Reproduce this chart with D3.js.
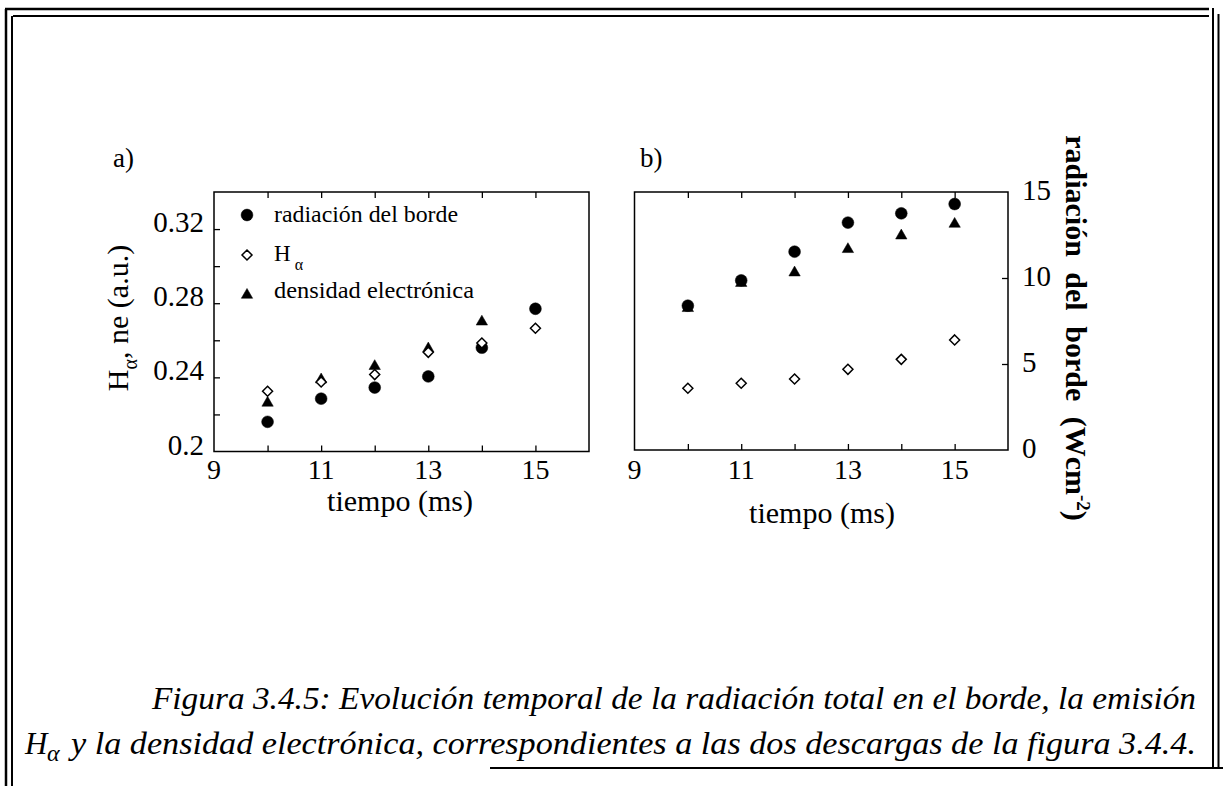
<!DOCTYPE html>
<html>
<head>
<meta charset="utf-8">
<script src="https://cdn.jsdelivr.net/npm/d3@7"></script>
<style>
  html, body { margin: 0; padding: 0; background: #fff; }
  svg { display: block; }
  text { font-family: "Liberation Serif", "Times New Roman", serif; fill: #000; }
</style>
</head>
<body>
<svg id="fig" width="1223" height="786"></svg>
<script>
// Discharge time (ms)
const tiempo = [10, 11, 12, 13, 14, 15];

// Panel a): normalised signals (a.u.)
const radiacionA = [0.216, 0.2285, 0.2345, 0.2405, 0.256, 0.277];
const halfaA     = [0.2325, 0.2375, 0.2415, 0.2535, 0.2585, 0.2665];
const densidadA  = [0.2262, 0.2388, 0.246, 0.2555, 0.270, null];

// Panel b): edge radiation (W cm^-2) and scaled signals
const radiacionB = [8.39, 9.86, 11.53, 13.22, 13.76, 14.30];
const halfaB     = [3.59, 3.88, 4.13, 4.69, 5.27, 6.40];
const densidadB  = [8.24, 9.70, 10.31, 11.67, 12.46, 13.14];

// Tick labels
const xTickLabels = [9, 11, 13, 15];
const yTickLabelsA = [0.2, 0.24, 0.28, 0.32];
const yTicksA = [0.22, 0.24, 0.26, 0.28, 0.30, 0.32];
const yTickLabelsB = [0, 5, 10, 15];
const yTicksB = [5, 10];

const svg = d3.select("#fig");

// ---- outer double frame ----
const frame = svg.append("g").attr("stroke", "#000").attr("fill", "none");
frame.append("line").attr("x1", 5).attr("y1", 9).attr("x2", 1209).attr("y2", 9).attr("stroke-width", 2.5);
frame.append("line").attr("x1", 13).attr("y1", 16).attr("x2", 1209).attr("y2", 16).attr("stroke-width", 2);
frame.append("line").attr("x1", 6).attr("y1", 9).attr("x2", 6).attr("y2", 786).attr("stroke-width", 2.5);
frame.append("line").attr("x1", 12).attr("y1", 16).attr("x2", 12).attr("y2", 786).attr("stroke-width", 2);
frame.append("line").attr("x1", 1213).attr("y1", 8).attr("x2", 1213).attr("y2", 768).attr("stroke-width", 2);
frame.append("line").attr("x1", 1218.5).attr("y1", 14).attr("x2", 1218.5).attr("y2", 768).attr("stroke-width", 2);
frame.append("line").attr("x1", 490).attr("y1", 768).attr("x2", 1223).attr("y2", 768).attr("stroke-width", 2.2);

// ---- marker helpers ----
// open diamond drawn as a square turned 45 degrees
const squareDiamond = {
  draw(ctx, size) {
    const r = Math.sqrt(size / 2);
    ctx.moveTo(0, -r); ctx.lineTo(r, 0); ctx.lineTo(0, r); ctx.lineTo(-r, 0); ctx.closePath();
  }
};
const sym = {
  circle: d3.symbol().type(d3.symbolCircle).size(110),
  diamond: d3.symbol().type(squareDiamond).size(50),
  triangle: d3.symbol().type(d3.symbolTriangle).size(56)
};
function drawSeries(g, x, y, vals, kind) {
  const pts = tiempo.map((t, i) => ({ t, v: vals[i] })).filter(d => d.v != null);
  g.selectAll(null).data(pts).join("path")
    .attr("transform", d => `translate(${x(d.t)},${y(d.v)})`)
    .attr("d", sym[kind]())
    .attr("fill", kind === "diamond" ? "#fff" : "#000")
    .attr("stroke", "#000")
    .attr("stroke-width", kind === "diamond" ? 1.5 : 0.5);
}

function frameBox(g, x, y) {
  const [x0, x1] = x.range(), [y0, y1] = y.range();
  g.append("rect")
    .attr("x", x0).attr("y", y1).attr("width", x1 - x0).attr("height", y0 - y1)
    .attr("fill", "none").attr("stroke", "#000").attr("stroke-width", 1.5);
  // inward ticks on bottom and top
  const bottom = d3.axisBottom(x).tickValues(tiempo).tickSize(-6).tickFormat("");
  const top = d3.axisTop(x).tickValues(tiempo).tickSize(-6).tickFormat("");
  const gb = g.append("g").attr("transform", `translate(0,${y0})`).call(bottom);
  const gt = g.append("g").attr("transform", `translate(0,${y1})`).call(top);
  [gb, gt].forEach(a => { a.select(".domain").remove(); a.selectAll("line").attr("stroke-width", 1.3); });
  // x tick labels
  g.append("g").selectAll("text").data(xTickLabels).join("text")
    .attr("x", d => x(d)).attr("y", 479)
    .attr("text-anchor", "middle").attr("font-size", 28)
    .text(d => d);
}

// ================= Panel a =================
const xa = d3.scaleLinear().domain([9, 16]).range([214, 589]);
const ya = d3.scaleLinear().domain([0.2, 0.34]).range([451.5, 192]);
const ga = svg.append("g");
frameBox(ga, xa, ya);

const leftA = d3.axisLeft(ya).tickValues(yTicksA).tickSize(-6).tickFormat("");
const gla = ga.append("g").attr("transform", `translate(${xa.range()[0]},0)`).call(leftA);
gla.select(".domain").remove();
gla.selectAll("line").attr("stroke-width", 1.3);

ga.append("g").selectAll("text").data(yTickLabelsA).join("text")
  .attr("x", 204).attr("y", d => ya(d) + 3)
  .attr("text-anchor", "end").attr("font-size", 29)
  .text(d => d === 0.2 ? "0.2" : d3.format(".2f")(d));

drawSeries(ga, xa, ya, densidadA, "triangle");
drawSeries(ga, xa, ya, radiacionA, "circle");
drawSeries(ga, xa, ya, halfaA, "diamond");

// panel label
svg.append("text").attr("x", 113).attr("y", 167).attr("font-size", 27).text("a)");

// y label
const yla = svg.append("text")
  .attr("transform", "translate(128,318) rotate(-90)")
  .attr("text-anchor", "middle").attr("font-size", 30);
yla.append("tspan").text("H");
yla.append("tspan").attr("dy", 9).attr("font-size", 20).text("α");
yla.append("tspan").attr("dy", -9).text(", ne (a.u.)");

// x label
svg.append("text").attr("x", 400).attr("y", 511)
  .attr("text-anchor", "middle").attr("font-size", 30).text("tiempo (ms)");

// legend
const leg = svg.append("g");
const legendItems = [
  { kind: "circle", y: 215 },
  { kind: "diamond", y: 255 },
  { kind: "triangle", y: 295 }
];
legendItems.forEach(it => {
  leg.append("path")
    .attr("transform", `translate(247,${it.y})`)
    .attr("d", sym[it.kind]())
    .attr("fill", it.kind === "diamond" ? "#fff" : "#000")
    .attr("stroke", "#000")
    .attr("stroke-width", it.kind === "diamond" ? 1.5 : 0.5);
});
leg.append("text").attr("x", 274).attr("y", 222).attr("font-size", 23)
  .attr("textLength", 184).attr("lengthAdjust", "spacingAndGlyphs")
  .text("radiación del borde");
const lh = leg.append("text").attr("x", 274).attr("y", 261).attr("font-size", 23);
lh.append("tspan").text("H");
lh.append("tspan").attr("dx", 4).attr("dy", 9).attr("font-size", 16).text("α");
leg.append("text").attr("x", 274).attr("y", 298).attr("font-size", 23)
  .attr("textLength", 200).attr("lengthAdjust", "spacingAndGlyphs")
  .text("densidad electrónica");

// ================= Panel b =================
const xb = d3.scaleLinear().domain([9, 16]).range([634.5, 1008]);
const yb = d3.scaleLinear().domain([0, 15]).range([450, 192]);
const gbp = svg.append("g");
frameBox(gbp, xb, yb);

const rightB = d3.axisRight(yb).tickValues(yTicksB).tickSize(-6).tickFormat("");
const grb = gbp.append("g").attr("transform", `translate(${xb.range()[1]},0)`).call(rightB);
grb.select(".domain").remove();
grb.selectAll("line").attr("stroke-width", 1.3);

gbp.append("g").selectAll("text").data(yTickLabelsB).join("text")
  .attr("x", 1022).attr("y", d => yb(d) + 8)
  .attr("text-anchor", "start").attr("font-size", 29)
  .text(d => d);

drawSeries(gbp, xb, yb, densidadB, "triangle");
drawSeries(gbp, xb, yb, radiacionB, "circle");
drawSeries(gbp, xb, yb, halfaB, "diamond");

svg.append("text").attr("x", 640).attr("y", 167).attr("font-size", 27).text("b)");

svg.append("text").attr("x", 822).attr("y", 523)
  .attr("text-anchor", "middle").attr("font-size", 30).text("tiempo (ms)");

// right axis title (reads top to bottom)
const ylb = svg.append("text")
  .attr("transform", "translate(1066,328) rotate(90)")
  .attr("text-anchor", "middle").attr("font-size", 30).attr("font-weight", "bold")
  .attr("word-spacing", 8);
ylb.append("tspan").text("radiación del borde (Wcm");
ylb.append("tspan").attr("dy", -11).attr("font-size", 19).text("-2");
ylb.append("tspan").attr("dy", 11).text(")");

// ================= caption =================
const cap = svg.append("g").attr("font-style", "italic");
cap.append("text").attr("x", 152).attr("y", 709).attr("font-size", 31)
  .attr("textLength", 1044).attr("lengthAdjust", "spacingAndGlyphs")
  .text("Figura 3.4.5: Evolución temporal de la radiación total en el borde, la emisión");
cap.append("text").attr("x", 25).attr("y", 754).attr("font-size", 31).text("H");
cap.append("text").attr("x", 47).attr("y", 761).attr("font-size", 24).text("α");
cap.append("text").attr("x", 71).attr("y", 754).attr("font-size", 31)
  .attr("textLength", 1125).attr("lengthAdjust", "spacingAndGlyphs")
  .text("y la densidad electrónica, correspondientes a las dos descargas de la figura 3.4.4.");
</script>
</body>
</html>
